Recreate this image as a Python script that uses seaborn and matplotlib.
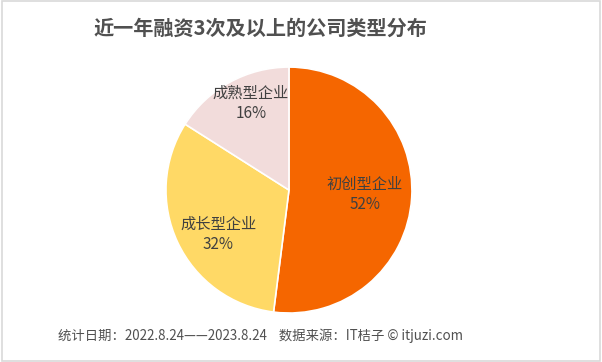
import matplotlib
matplotlib.use('Agg')
import numpy as np
import matplotlib.pyplot as plt
import seaborn as sns
from matplotlib.patches import Rectangle

sns.set_theme(style="white")
plt.rcParams['font.family'] = ['Noto Sans CJK SC', 'DejaVu Sans']

# 数据
categorias = ['初创型企业', '成长型企业', '成熟型企业']
valores = [52, 32, 16]
cores = sns.color_palette(['#F56600', '#FFD966', '#F2DCDB'])
distancias = [0.62, 0.68, 0.77]  # posição dos rótulos (fração do raio)
ajuste_ang = [0, 7, -5]          # pequeno ajuste do ângulo do rótulo (graus)

titulo = '近一年融资3次及以上的公司类型分布'
rodape = '统计日期：2022.8.24——2023.8.24    数据来源：IT桔子 © itjuzi.com'

fig = plt.figure(figsize=(6.02, 3.62), dpi=100)
ax = fig.add_axes([0.2757, 0.1352, 0.4086, 0.6796])

wedges = ax.pie(valores, colors=cores, startangle=90, counterclock=False,
                wedgeprops=dict(edgecolor='white', linewidth=1.2))[0]

# rótulos dentro das fatias
for w, nome, v, d, da in zip(wedges, categorias, valores, distancias, ajuste_ang):
    ang = np.deg2rad((w.theta1 + w.theta2) / 2 + da)
    ax.text(d * np.cos(ang), d * np.sin(ang), f'{nome}\n{v}%',
            ha='center', va='center', fontsize=11, color='#404040', linespacing=1.25)

ax.set_aspect('equal')
ax.set_xlim(-1, 1)
ax.set_ylim(-1, 1)

fig.text(0.432, 0.923, titulo, ha='center', va='center', fontsize=14.5,
         fontweight='bold', color='#505050')
fig.text(0.432, 0.072, rodape, ha='center', va='center', fontsize=9.6, color='#505050')

# borda
fig.patches.append(Rectangle((0.003, 0.004), 0.994, 0.992, transform=fig.transFigure,
                             fill=False, edgecolor='#D9D9D9', linewidth=1.2))

fig.savefig('out.png', dpi=100)
